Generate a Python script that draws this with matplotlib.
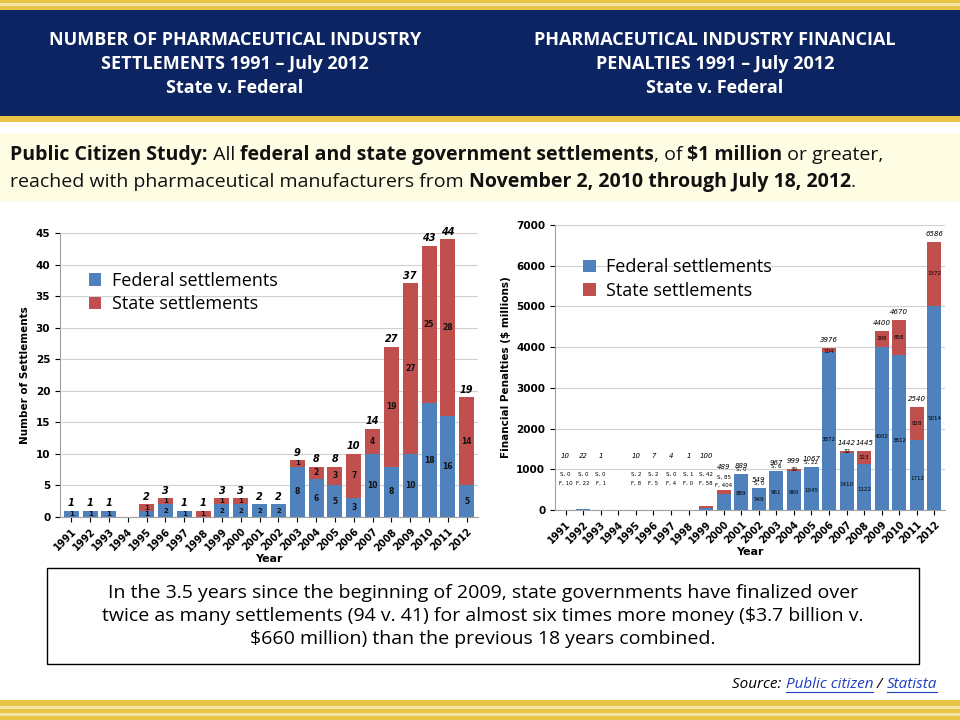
import numpy as np
import matplotlib.pyplot as plt
from matplotlib.patches import Rectangle

years = [str(y) for y in range(1991, 2013)]
# number of settlements
fed_n = [1, 1, 1, 0, 1, 2, 1, 0, 2, 2, 2, 2, 8, 6, 5, 3, 10, 8, 10, 18, 16, 5]
state_n = [0, 0, 0, 0, 1, 1, 0, 1, 1, 1, 0, 0, 1, 2, 3, 7, 4, 19, 27, 25, 28, 14]
# financial penalties ($ millions)
fed_m = [10, 22, 1, 0, 8, 5, 4, 0, 58, 404, 889, 549, 961, 960, 1045, 3872, 1410, 1122, 4002, 3812, 1712, 5014]
state_m = [0, 0, 0, 0, 2, 2, 0, 1, 42, 85, 0, 0, 6, 39, 22, 104, 32, 323, 398, 858, 828, 1572]
total_m = [10, 22, 1, None, 10, 7, 4, 1, 100, 489, 889, 549, 967, 999, 1067, 3976, 1442, 1445, 4400, 4670, 2540, 6586]

BLUE = '#4f81bd'
RED = '#c0504d'
NAVY = '#0c2461'
GOLD = '#e8c547'

fig = plt.figure(figsize=(9.6, 7.2), dpi=100)
r = fig.canvas.get_renderer()

def box(x, y, w, h, **kw):
    fig.add_artist(Rectangle((x / 960, 1 - (y + h) / 720), w / 960, h / 720,
                             transform=fig.transFigure, **kw))

def ftext(x, y, s, **kw):
    return fig.text(x / 960, 1 - y / 720, s, **kw)

def runs(x, y, parts, **kw):
    # draw a line of text made of bold / normal runs
    for s, bold in parts:
        t = ftext(x, y, s, fontweight='bold' if bold else 'normal', **kw)
        x += t.get_window_extent(r).width

# header
box(0, 0, 960, 10, color=GOLD, lw=0)
box(0, 3, 960, 3, color='#f5e6a8', lw=0)
box(0, 10, 960, 106, color=NAVY, lw=0)
box(0, 116, 960, 6, color=GOLD, lw=0)
ftext(235, 64, "NUMBER OF PHARMACEUTICAL INDUSTRY\nSETTLEMENTS 1991 \u2013 July 2012\nState v. Federal",
      color='white', ha='center', va='center', fontsize=13, fontweight='bold', linespacing=1.45,
      family='Open Sans')
ftext(715, 64, "PHARMACEUTICAL INDUSTRY FINANCIAL\nPENALTIES 1991 \u2013 July 2012\nState v. Federal",
      color='white', ha='center', va='center', fontsize=13, fontweight='bold', linespacing=1.45,
      family='Open Sans')

# study box
box(0, 133, 960, 68, color='#fefce3', lw=0)
kw = dict(fontsize=14, va='center', color='#111', family='Open Sans')
runs(10, 155, [("Public Citizen Study:", True), (" All ", False),
               ("federal and state government settlements", True), (", of ", False),
               ("$1 million", True), (" or greater,", False)], **kw)
runs(10, 182, [("reached with pharmaceutical manufacturers from ", False),
               ("November 2, 2010 through July 18, 2012", True), (".", False)], **kw)

x = np.arange(len(years))

# left chart
ax1 = fig.add_axes([60 / 960, 1 - 517 / 720, 418 / 960, 284 / 720])
ax1.bar(x, fed_n, 0.8, color=BLUE, label='Federal settlements', zorder=3)
ax1.bar(x, state_n, 0.8, bottom=fed_n, color=RED, label='State settlements', zorder=3)
ax1.set_ylim(0, 45)
ax1.set_yticks(range(0, 46, 5))
ax1.set_xlim(-0.6, len(years) - 0.4)
ax1.set_xticks(x)
ax1.set_xticklabels(years, rotation=45, ha='right', rotation_mode='anchor', fontsize=7, fontweight='bold')
ax1.tick_params(axis='y', labelsize=7.5)
for t in ax1.get_yticklabels():
    t.set_fontweight('bold')
ax1.set_ylabel('Number of Settlements', fontsize=7.5, fontweight='bold')
ax1.set_xlabel('Year', fontsize=8, fontweight='bold', labelpad=1)
ax1.grid(axis='y', color='#d0d0d0', lw=0.8, zorder=0)
for i in range(len(years)):
    tot = fed_n[i] + state_n[i]
    if tot == 0:
        continue
    ax1.text(i, tot + 0.4, str(tot), ha='center', va='bottom', fontsize=7, fontweight='bold', style='italic')
    if fed_n[i] > 0:
        ax1.text(i, fed_n[i] / 2, str(fed_n[i]), ha='center', va='center',
                 fontsize=5 if fed_n[i] < 3 else 5.5, fontweight='bold', color='#111', zorder=4)
    if state_n[i] > 0 and i > 3:
        ax1.text(i, fed_n[i] + state_n[i] / 2, str(state_n[i]), ha='center', va='center',
                 fontsize=5 if state_n[i] < 2 else 5.5, fontweight='bold', color='#111', zorder=4)
ax1.legend(loc='upper left', bbox_to_anchor=(0.03, 0.92), frameon=False, fontsize=13,
           handlelength=0.7, handleheight=0.7, handletextpad=0.6, labelspacing=0.3,
           prop={'family': 'Open Sans', 'size': 13})

# right chart
ax2 = fig.add_axes([555 / 960, 1 - 510 / 720, 390 / 960, 285 / 720])
ax2.bar(x, fed_m, 0.8, color=BLUE, label='Federal settlements', zorder=3)
ax2.bar(x, state_m, 0.8, bottom=fed_m, color=RED, label='State settlements', zorder=3)
ax2.set_ylim(0, 7000)
ax2.set_yticks(range(0, 7001, 1000))
ax2.set_xlim(-0.6, len(years) - 0.4)
ax2.set_xticks(x)
ax2.set_xticklabels(years, rotation=45, ha='right', rotation_mode='anchor', fontsize=7, fontweight='bold')
ax2.tick_params(axis='y', labelsize=7.5)
for t in ax2.get_yticklabels():
    t.set_fontweight('bold')
ax2.set_ylabel('Financial Penalties ($ millions)', fontsize=7.5, fontweight='bold')
ax2.set_xlabel('Year', fontsize=8, fontweight='bold', labelpad=1)
ax2.grid(axis='y', color='#d0d0d0', lw=0.8, zorder=0)
for i in range(len(years)):
    tot = total_m[i]
    if tot is None:
        continue
    if tot < 300:
        ax2.text(i, 1250, str(tot), ha='center', va='bottom', fontsize=5, style='italic')
        ax2.text(i, 600, f"S, {state_m[i]}\nF, {fed_m[i]}", ha='center', va='bottom', fontsize=4, linespacing=1.9)
        continue
    if i == 9:
        ax2.text(i, tot + 500, str(tot), ha='center', va='bottom', fontsize=5, style='italic')
        ax2.text(i, tot + 60, f"S, {state_m[i]}\nF, {fed_m[i]}", ha='center', va='bottom', fontsize=4, linespacing=1.7)
        continue
    ax2.text(i, tot + 120, str(tot), ha='center', va='bottom', fontsize=5, style='italic')
    if state_m[i] < 30:
        ax2.text(i, tot + 40, f"S, {state_m[i]}", ha='center', va='bottom', fontsize=4)
    elif state_m[i] < 100:
        ax2.text(i, tot, str(state_m[i]), ha='center', va='center', fontsize=4, zorder=4)
    else:
        ax2.text(i, fed_m[i] + state_m[i] * (0.5 if state_m[i] > 200 else 0.2), str(state_m[i]),
                 ha='center', va='center', fontsize=4, zorder=4)
    ax2.text(i, fed_m[i] * 0.45, str(fed_m[i]), ha='center', va='center', fontsize=4, zorder=4)
ax2.legend(loc='upper left', bbox_to_anchor=(0.03, 0.94), frameon=False,
           handlelength=0.7, handleheight=0.7, handletextpad=0.6, labelspacing=0.3,
           prop={'family': 'Open Sans', 'size': 13})

for ax in (ax1, ax2):
    for s in ax.spines.values():
        s.set_color('#a0a0a0')
    ax.spines['top'].set_visible(False)
    ax.spines['right'].set_visible(False)

# bottom text box
box(47, 568, 872, 96, facecolor='white', edgecolor='black', lw=1)
ftext(483, 616, "In the 3.5 years since the beginning of 2009, state governments have finalized over\n"
      "twice as many settlements (94 v. 41) for almost six times more money ($3.7 billion v.\n"
      "$660 million) than the previous 18 years combined.",
      ha='center', va='center', fontsize=14, linespacing=1.35, family='Open Sans')

# source, right aligned
parts = [("Source: ", 'black', False), ("Public citizen", '#1f3fbf', True),
         (" / ", 'black', False), ("Statista", '#1f3fbf', True)]
probe = ftext(0, 684, "".join(p[0] for p in parts), fontsize=11, style='italic', family='Open Sans')
cx = 937 - probe.get_window_extent(r).width
probe.remove()
for s, c, link in parts:
    t = ftext(cx, 684, s, fontsize=11, style='italic', color=c, va='center', family='Open Sans')
    w = t.get_window_extent(r).width
    if link:
        fig.add_artist(plt.Line2D([cx / 960, (cx + w) / 960], [1 - 692 / 720] * 2, color=c, lw=0.8))
    cx += w

box(0, 700, 960, 20, color=GOLD, lw=0)
box(0, 706, 960, 3, color='#f5e6a8', lw=0)
box(0, 713, 960, 3, color='#f5e6a8', lw=0)

fig.savefig('out.png', dpi=100)
